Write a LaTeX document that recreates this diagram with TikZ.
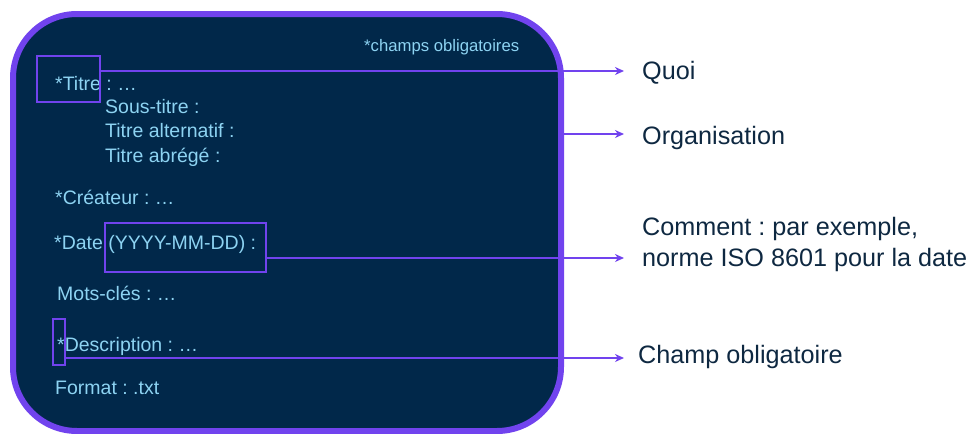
\documentclass[tikz,border=0pt]{standalone}
\usepackage{fontspec}
\setmainfont{Liberation Sans}
\usetikzlibrary{arrows.meta}
\definecolor{cardfill}{HTML}{01284A}
\definecolor{accent}{HTML}{7143EE}
\definecolor{fieldtext}{HTML}{8DD3F2}
\definecolor{remarktext}{HTML}{0E2841}
\frenchspacing
\begin{document}
\begin{tikzpicture}[x=1pt,y=-1pt,
  card/.style={draw=accent, line width=6pt, fill=cardfill, rounded corners=64pt,
    inner sep=0pt, minimum width=548pt, minimum height=417pt},
  field/.style={anchor=base west, inner sep=0pt, text=fieldtext,
    font=\fontsize{19.5}{23}\selectfont},
  note/.style={field, font=\fontsize{16.7}{20}\selectfont},
  remark/.style={anchor=base west, inner sep=0pt, text=remarktext,
    font=\fontsize{25.2}{30}\selectfont},
  markbox/.style={draw=accent, line width=2pt, inner sep=0pt},
  link/.style={draw=accent, line width=2pt, -{Stealth[length=9pt,width=8pt]}}
]
\useasboundingbox (0,0) rectangle (970,434);

% metadata card
\node[card] (card) at (287,222.5) {};

% field texts
\node[note]  (mandatory) at (364,51)  {*champs obligatoires};
\node[field] (titre)     at (55,90)   {*Titre : …};
\node[field] (soustitre) at (105,113) {Sous-titre :};
\node[field] (alt)       at (105,137) {Titre alternatif :};
\node[field] (abrege)    at (105,162) {Titre abrégé :};
\node[field] (createur)  at (55,204)  {*Créateur : …};
\node[field] (date)      at (54,249)  {*Date (YYYY-MM-DD) :};
\node[field] (motscles)  at (57,300)  {Mots-clés : …};
\node[field] (descr)     at (57,351)  {*Description : …};
\node[field] (format)    at (55,394)  {Format : .txt};

% highlight frames
\node[markbox, minimum width=63pt, minimum height=46pt]  (titrebox) at (68.5,79) {};
\node[markbox, minimum width=161pt, minimum height=49pt] (datebox)  at (185.5,247.5) {};
\node[markbox, minimum width=12pt, minimum height=46pt]  (starbox)  at (59,342) {};

% explanations
\node[remark] (quoi)     at (642,79)  {Quoi};
\node[remark] (orga)     at (642,144) {Organisation};
\node[remark] (comment)  at (642,235) {Comment : par exemple,};
\node[remark] (norme)    at (642,266) {norme ISO 8601 pour la date};
\node[remark] (champ)    at (638,363) {Champ obligatoire};

% arrow tips
\coordinate (tipquoi)  at (624,71);
\coordinate (tiporga)  at (624,134);
\coordinate (tipdate)  at (624,258);
\coordinate (tipchamp) at (624,358);

% connectors
\draw[link] (titrebox.east |- tipquoi) -- (tipquoi);
\draw[link] (card.east |- tiporga) -- (tiporga);
\draw[link] (datebox.east |- tipdate) -- (tipdate);
\draw[link] (starbox.east |- tipchamp) -- (tipchamp);
\end{tikzpicture}
\end{document}
